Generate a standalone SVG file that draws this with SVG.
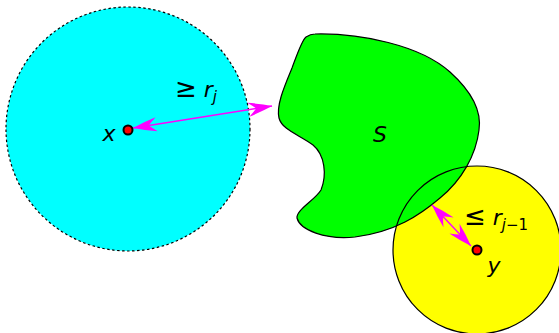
<svg xmlns="http://www.w3.org/2000/svg" width="559" height="333" viewBox="0 0 559 333">
<style>
  .lbl { font-family: "DejaVu Sans", sans-serif; font-size: 22px; fill: #000; }
  .it { font-style: italic; }
  .rel { font-size: 26px; }
  .edge { stroke: #ff00ff; stroke-width: 1.4; fill: none; marker-start: url(#ah); marker-end: url(#ah); }
  .pt { fill: #ff0000; stroke: #000; stroke-width: 2; }
</style>
<defs>
  <marker id="ah" markerUnits="userSpaceOnUse" markerWidth="28" markerHeight="18" viewBox="-26 -9 28 18" refX="0" refY="0" orient="auto-start-reverse">
    <path d="M0,0 Q-11,-4 -24,-7 Q-19,-3 -16,0 Q-19,3 -24,7 Q-11,4 0,0 Z" fill="#ff00ff"/>
  </marker>
</defs>
<rect width="559" height="333" fill="#fff"/>
<g id="ball-x">
  <circle cx="128" cy="129" r="122" fill="#00ffff" stroke="#000" stroke-width="1.2" stroke-dasharray="2.5,2.5"/>
</g>
<g id="ball-y-fill">
  <circle cx="477" cy="250" r="84" fill="#ffff00"/>
</g>
<g id="S">
  <path d="M 315,34 C 360,33 420,45 450,72 C 470,90 482,110 479,130 C 476,155 462,180 440,198 C 420,215 395,232 355,237 C 325,240 300,230 297,218 C 296,210 315,200 321,190 C 327,175 325,155 313,145 C 300,135 282,130 279,118 C 276,105 285,85 292,68 C 298,52 302,40 306,37 C 309,35 312,34 315,34 Z" fill="#00ff00" stroke="#000" stroke-width="1.2"/>
  <text class="lbl it" x="380" y="142" text-anchor="middle" font-size="26">S</text>
</g>
<g id="ball-y">
  <circle cx="477" cy="250" r="84" fill="none" stroke="#000" stroke-width="1.2"/>
</g>
<g id="connectors">
  <line class="edge" x1="133" y1="128" x2="272" y2="106"/>
  <line class="edge" x1="432" y1="205" x2="471" y2="246"/>
</g>
<g id="point-x">
  <circle class="pt" cx="128" cy="130" r="4.5"/>
  <text class="lbl it" x="109" y="141" text-anchor="middle">x</text>
</g>
<g id="point-y">
  <circle class="pt" cx="477" cy="250" r="4.5"/>
  <text class="lbl it" x="494" y="273" text-anchor="middle">y</text>
</g>
<g id="label-rj">
  <text class="lbl" x="175" y="97"><tspan class="rel">≥</tspan> <tspan class="it">r</tspan><tspan class="it" font-size="15" dy="5">j</tspan></text>
</g>
<g id="label-rj1">
  <text class="lbl" x="464" y="225"><tspan class="rel">≤</tspan> <tspan class="it">r</tspan><tspan class="it" font-size="15" dy="5">j</tspan><tspan font-size="15">−1</tspan></text>
</g>
</svg>
